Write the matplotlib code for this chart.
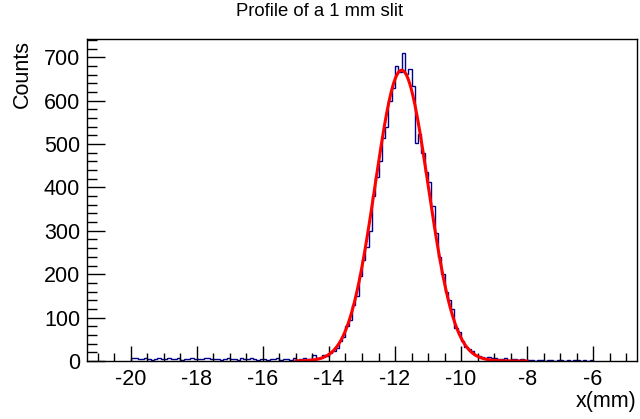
import numpy as np
import matplotlib
matplotlib.use('Agg')
import matplotlib.pyplot as plt
from matplotlib.ticker import MultipleLocator

plt.rcParams['font.family'] = ['Liberation Sans', 'DejaVu Sans']

# histogram: 140 bins of 0.1 mm from -20 to -6
x_lo, x_hi, nbins = -20.0, -6.0, 140
counts = [
    8, 8, 5, 4, 6, 5, 3, 5, 6, 4,            # -20 .. -19
    5, 7, 4, 5, 6, 3, 5, 4, 6, 5,            # -19 .. -18
    5, 4, 6, 8, 5, 4, 5, 3, 5, 6,            # -18 .. -17
    4, 5, 3, 6, 4, 5, 6, 4, 3, 5,            # -17 .. -16
    4, 3, 5, 4, 6, 3, 4, 5, 3, 6,            # -16 .. -15
    3, 4, 6, 5, 5, 13, 8, 8, 13, 11,         # -15 .. -14
    18, 22, 30, 45, 55, 80, 95, 128, 150, 195,          # -14 .. -13
    232, 262, 300, 380, 425, 460, 515, 540, 600, 628,   # -13 .. -12
    680, 665, 709, 662, 672, 633, 503, 522, 480, 435,   # -12 .. -11
    412, 358, 296, 240, 200, 160, 140, 120, 76, 67,     # -11 .. -10
    45, 32, 28, 24, 14, 12, 9, 8, 9, 7,      # -10 .. -9
    6, 5, 4, 6, 3, 4, 5, 3, 4, 2,            # -9 .. -8
    2, 3, 1, 2, 2, 1, 3, 2, 1, 2,            # -8 .. -7
    3, 1, 2, 1, 2, 2, 1, 2, 1, 2,            # -7 .. -6
]

# gaussian fit parameters
fit_const = 670.0
fit_mean = -11.80
fit_sigma = 0.80
fit_lo, fit_hi = -15.0, -8.0

edges = np.linspace(x_lo, x_hi, nbins + 1)
xf = np.linspace(fit_lo, fit_hi, 500)
yf = fit_const * np.exp(-0.5 * ((xf - fit_mean) / fit_sigma) ** 2)

fig = plt.figure(figsize=(6.4, 4.19), dpi=100)
ax = fig.add_axes([87/640, 1 - 361/419, (637 - 87)/640, (361 - 39)/419])

ax.stairs(counts, edges, color='#000088', linewidth=1.0, baseline=0)
ax.plot(xf, yf, color='#ff0000', linewidth=2.2)

ax.set_xlim(-21.33, -4.67)
ax.set_ylim(0, 742)

ax.xaxis.set_major_locator(MultipleLocator(2))
ax.xaxis.set_minor_locator(MultipleLocator(0.5))
ax.yaxis.set_major_locator(MultipleLocator(100))
ax.yaxis.set_minor_locator(MultipleLocator(20))
ax.tick_params(which='both', direction='in', top=False, right=False,
               labelsize=15.5, width=1.0)
ax.tick_params(axis='x', which='major', length=11, pad=6)
ax.tick_params(axis='x', which='minor', length=6)
ax.tick_params(axis='y', which='major', length=13, pad=5)
ax.tick_params(axis='y', which='minor', length=7)
for s in ax.spines.values():
    s.set_linewidth(1.0)

ax.set_xticks([-20, -18, -16, -14, -12, -10, -8, -6])
ax.set_xticklabels(['-20', '-18', '-16', '-14', '-12', '-10', '-8', '-6'])

fig.text(0.5, 1 - 12/419, 'Profile of a 1 mm slit', ha='center', va='center',
         fontsize=13.3)
fig.text(637/640, 1 - 401/419, 'x(mm)', ha='right', va='center', fontsize=15.5)
fig.text(22/640, 1 - 40/419, 'Counts', ha='center', va='top', rotation=90,
         fontsize=15.5)

fig.savefig('out.png', dpi=100)
